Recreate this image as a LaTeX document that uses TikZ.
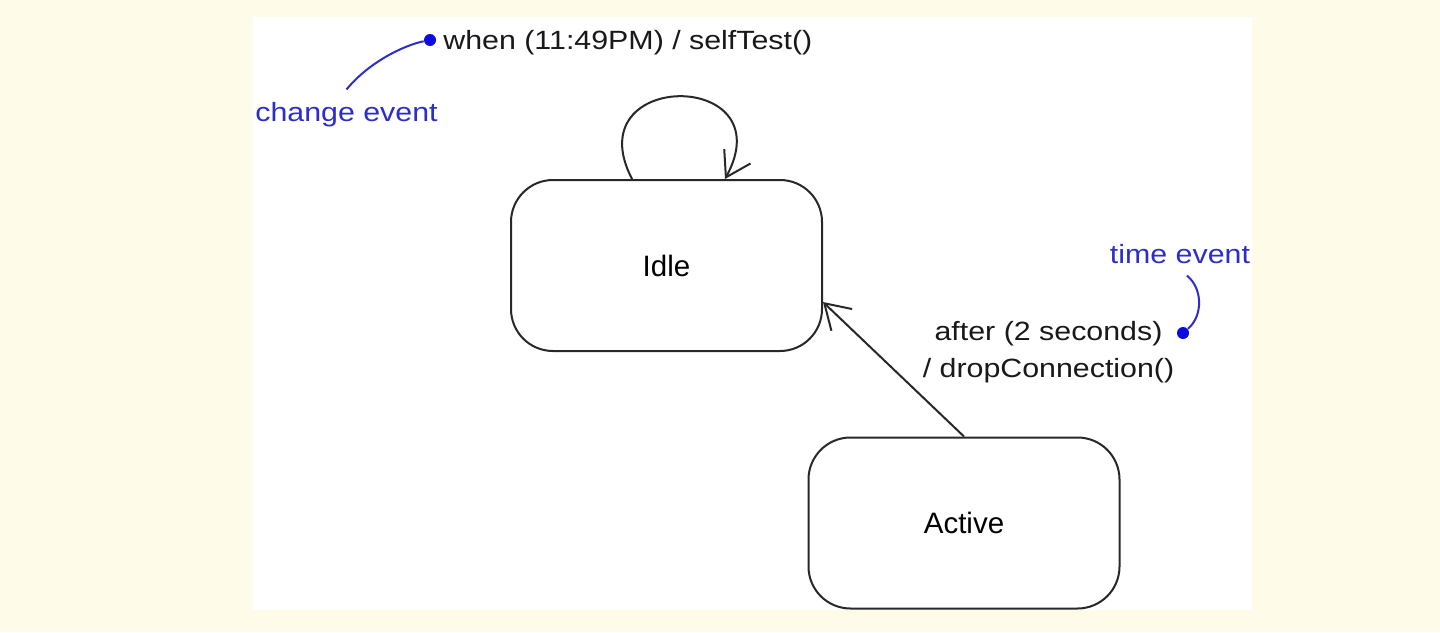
\documentclass[tikz,border=0pt]{standalone}
\usepackage{fontspec}
\setmainfont{Liberation Sans}
\newfontfamily\notefont{Liberation Sans}[FakeStretch=1.15]
\usetikzlibrary{arrows.meta,calc}
\definecolor{pagecream}{RGB}{255,251,233}
\definecolor{noteblue}{RGB}{45,45,200}
\definecolor{dotblue}{RGB}{10,10,225}
\definecolor{edgegray}{RGB}{40,40,40}

\begin{document}
\begin{tikzpicture}[x=0.5pt,y=-0.5pt,>={Straight Barb[length=12pt,width=15pt]}]
	\tikzstyle{state} = [rectangle, rounded corners=21pt, draw=edgegray, line width=1pt, minimum width=155.5pt, minimum height=85.5pt, font=\fontsize{14.75}{17}\selectfont];
	\tikzstyle{trans} = [inner sep=0pt, font=\notefont\fontsize{13.2}{18.5}\selectfont, text=black!90];
	\tikzstyle{note} = [inner sep=6pt, font=\notefont\fontsize{13.2}{18.5}\selectfont, text=noteblue];
	\tikzstyle{notedot} = [circle, fill=dotblue, inner sep=0pt, minimum size=6pt];
	\tikzstyle{noteline} = [draw=noteblue, line width=1pt];
	\tikzstyle{flow} = [draw=edgegray, line width=1pt, ->];
	
	\useasboundingbox (0,0) rectangle (1440,632);
	\fill[pagecream] (0,0) rectangle (1440,632);
	\fill[white] (253,17) rectangle (1252,610);
	
	\node[state] (idle) at (666.5,265.5) {Idle};
	\node[state] (active) at (964,523) {Active};
	
	\node[trans, anchor=base west] (selftest) at (443,49) {when (11:49PM) / selfTest()};
	\node[trans, align=center] (drop) at (1048.5,352.5) {after (2 seconds)\\/ dropConnection()};
	
	\draw[flow] ([xshift=-17.25pt]idle.north) .. controls +(-57,-110) and +(60,-110) .. ([xshift=29.25pt]idle.north);
	\path (active.north) edge[flow] ([yshift=-18.25pt]idle.east);
	
	
	\node[note, anchor=base] (changenote) at (346.5,121) {change event};
	\node[note, anchor=base] (timenote) at (1180,263) {time event};
	\node[notedot] (changedot) at (430,40) {};
	\node[notedot] (timedot) at (1183,333) {};
	
	\draw[noteline] (changedot) .. controls +(-25,5) and +(23,-28) .. (changenote.north);
	\draw[noteline] ([xshift=3.5pt]timenote.south) .. controls +(16,13) and +(20,-17) .. (timedot);
\end{tikzpicture}
\end{document}
